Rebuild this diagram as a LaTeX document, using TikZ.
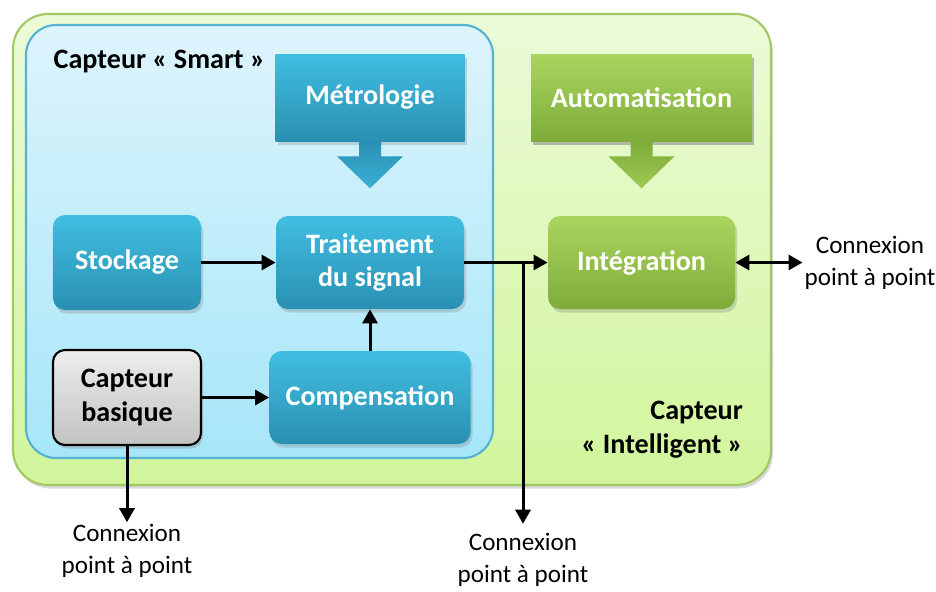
\documentclass[tikz,border=0pt]{standalone}
\usepackage{fontspec}
\setmainfont{Carlito}
\usepackage{tikz}
\usetikzlibrary{arrows.meta, shadows}
\definecolor{vertclair}{HTML}{EBFBD8}
\definecolor{vertmoyen}{HTML}{D2F59C}
\definecolor{vertbord}{HTML}{A2C765}
\definecolor{bleuclair}{HTML}{DDF4FC}
\definecolor{bleumoyen}{HTML}{A6E6F9}
\definecolor{bleubord}{HTML}{55B2D2}
\definecolor{bleuhaut}{HTML}{40BEE1}
\definecolor{bleubas}{HTML}{2A90B3}
\definecolor{verthaut}{HTML}{A9D55F}
\definecolor{vertbas}{HTML}{7FAB3A}
\definecolor{grishaut}{HTML}{EDEDED}
\definecolor{grisbas}{HTML}{C2C2C2}
\newcommand\txtbloc{\fontsize{16}{19.3}\selectfont\bfseries}
\newcommand\txtlien{\fontsize{14.3}{18.2}\selectfont}

\begin{document}
\begin{tikzpicture}[>={Triangle[length=0.28cm, width=0.3cm]}, node distance=2.7cm,
	ombre/.style={drop shadow={opacity=0.3, shadow xshift=0.04cm, shadow yshift=-0.07cm}},
	bloc/.style={ombre, rounded corners=0.24cm, text=white, font=\txtbloc, align=center, minimum width=2.96cm, minimum height=1.86cm, top color=bleuhaut, bottom color=bleubas},
	blocvert/.style={bloc, top color=verthaut, bottom color=vertbas},
	source/.style={bloc, rounded corners=0pt, minimum height=1.74cm},
	lien/.style={font=\txtlien, align=center, inner sep=1pt}]
	\useasboundingbox (0,0) rectangle (18.72,-11.82);
	\draw[ombre, vertbord, line width=1.2pt, top color=vertclair, bottom color=vertmoyen, rounded corners=0.7cm] (0.26,-0.28) rectangle (15.42,-9.70);
	\draw[bleubord, line width=1.2pt, top color=bleuclair, bottom color=bleumoyen, rounded corners=0.6cm] (0.52,-0.5) rectangle (9.86,-9.16);
	\node[font=\txtbloc, anchor=west] (smart) at (0.95,-1.22) {Capteur «~Smart~»};
	\node[font=\txtbloc, anchor=east, align=right] (intel) at (14.98,-8.6) {Capteur\\«~Intelligent~»};

	\node[bloc, minimum height=1.9cm] (stock) at (2.54,-5.25) {Stockage};
	\node[bloc, minimum width=3.76cm] (trait) [right of=stock, xshift=2.16cm] {Traitement\\du signal};
	\node[bloc, minimum height=1.9cm, top color=grishaut, bottom color=grisbas, draw=black, line width=1.2pt, text=black] (basique) [below of=stock] {Capteur\\basique};
	\node[bloc, minimum width=4.02cm] (comp) [right of=basique, xshift=2.16cm] {Compensation};
	\node[blocvert, minimum width=3.74cm] (integ) [right of=trait, xshift=2.73cm] {Intégration};
	\node[source, minimum width=3.78cm] (metro) [above of=trait, yshift=0.6cm] {Métrologie};
	\node[source, blocvert, rounded corners=0pt, minimum height=1.74cm, minimum width=4.42cm] (auto) [above of=integ, yshift=0.6cm] {Automatisation};

	\path[top color=bleubas, bottom color=bleuhaut!70!bleubas] ([xshift=-0.22cm]metro.south) -- ++(0,-0.3) -- ++(-0.44,0) -- ++(0.66,-0.64) -- ++(0.66,0.64) -- ++(-0.44,0) -- ++(0,0.3) -- cycle;
	\path[top color=vertbas, bottom color=verthaut!70!vertbas] ([xshift=-0.22cm]auto.south) -- ++(0,-0.3) -- ++(-0.44,0) -- ++(0.66,-0.64) -- ++(0.66,0.64) -- ++(-0.44,0) -- ++(0,0.3) -- cycle;

	\node[lien] (cx1) [below of=basique, yshift=-0.37cm] {Connexion\\point à point};
	\node[lien] (cx2) at (10.46,-11.2) {Connexion\\point à point};
	\node[lien] (cx3) [right of=integ, xshift=1.87cm] {Connexion\\point à point};
	\coordinate (br) at (trait.east -| cx2.north);

	\path[->, line width=0.06cm]
		(stock) edge (trait)
		(basique) edge (comp)
		(comp) edge (trait)
		(trait) edge (integ)
		(br) edge[shorten >=0.15cm] (cx2)
		(basique) edge (cx1)
		(integ) edge[<->] (cx3);
\end{tikzpicture}
\end{document}
